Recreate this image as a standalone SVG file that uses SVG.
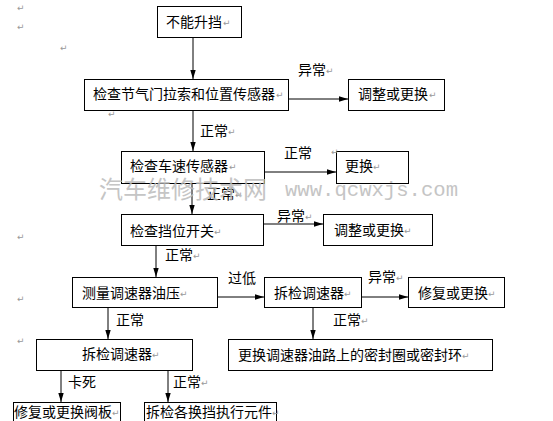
<svg xmlns="http://www.w3.org/2000/svg" width="553" height="421" viewBox="0 0 553 421">
<style>
.box{fill:#fff;stroke:#000;stroke-width:1}
.t{font-family:"Noto Sans CJK SC","Liberation Sans",sans-serif;font-size:14px;fill:#000}
.m{font-family:"DejaVu Sans",sans-serif;font-size:9px;fill:#999}
.ln{stroke:#000;stroke-width:1;fill:none;marker-end:url(#ah)}
.wm{font-family:"Noto Sans CJK SC",serif;font-size:24px;fill:#bbb;opacity:0.85}
.wm2{font-family:"Liberation Mono",monospace;font-size:20.6px;fill:#bbb;opacity:0.85}
</style>
<defs>
<marker id="ah" viewBox="0 0 10 6" refX="10" refY="3" markerWidth="9" markerHeight="5.4" markerUnits="userSpaceOnUse" orient="auto">
<path d="M0,0 L10,3 L0,6 Z" fill="#000"/>
</marker>
</defs>
<rect width="553" height="421" fill="#fff"/>
<g id="connectors">
<line class="ln" x1="193" y1="37" x2="193" y2="79"/>
<line class="ln" x1="288" y1="99" x2="348" y2="99"/>
<line class="ln" x1="193" y1="110" x2="193" y2="151"/>
<line class="ln" x1="264" y1="172" x2="336" y2="172"/>
<line class="ln" x1="192" y1="183" x2="192" y2="214"/>
<line class="ln" x1="264" y1="224" x2="323" y2="224"/>
<line class="ln" x1="156" y1="245" x2="156" y2="277"/>
<line class="ln" x1="217" y1="297" x2="264" y2="297"/>
<line class="ln" x1="361" y1="297" x2="408" y2="297"/>
<line class="ln" x1="313" y1="307" x2="313" y2="339"/>
<line class="ln" x1="108" y1="307" x2="108" y2="339"/>
<line class="ln" x1="61" y1="370" x2="61" y2="402"/>
<line class="ln" x1="168" y1="370" x2="168" y2="402"/>
<text class="t" x="298" y="75">异常</text><text class="m" x="326" y="74">↵</text>
<text class="t" x="200" y="136">正常</text><text class="m" x="228" y="135">↵</text>
<text class="t" x="284" y="158">正常</text>
<text class="t" x="207" y="199">正常</text><text class="m" x="235" y="198">↵</text>
<text class="t" x="277" y="221">异常</text><text class="m" x="305" y="220">↵</text>
<text class="t" x="165" y="260">正常</text><text class="m" x="193" y="259">↵</text>
<text class="t" x="228" y="283">过低</text>
<text class="t" x="368" y="282">异常</text><text class="m" x="396" y="281">↵</text>
<text class="t" x="333" y="325">正常</text><text class="m" x="361" y="324">↵</text>
<text class="t" x="116" y="325">正常</text>
<text class="t" x="68" y="387">卡死</text>
<text class="t" x="173" y="387">正常</text><text class="m" x="201" y="386">↵</text>
</g>
<g id="n1"><rect class="box" x="157.5" y="6.5" width="84" height="31"/><text class="t" x="166" y="27">不能升挡</text><text class="m" x="223" y="26">↵</text></g>
<g id="n2"><rect class="box" x="84.5" y="79.5" width="204" height="31"/><text class="t" x="93" y="99">检查节气门拉索和位置传感器</text><text class="m" x="276" y="98">↵</text></g>
<g id="n3"><rect class="box" x="348.5" y="79.5" width="96" height="31"/><text class="t" x="358" y="99">调整或更换</text><text class="m" x="429" y="98">↵</text></g>
<g id="n4"><rect class="box" x="121.5" y="151.5" width="143" height="32"/><text class="t" x="130" y="171">检查车速传感器</text><text class="m" x="229" y="170">↵</text></g>
<g id="n5"><rect class="box" x="336.5" y="151.5" width="72" height="32"/><text class="t" x="345" y="171">更换</text><text class="m" x="373" y="170">↵</text></g>
<g id="n6"><rect class="box" x="121.5" y="214.5" width="142" height="31"/><text class="t" x="130" y="236">检查挡位开关</text><text class="m" x="214" y="235">↵</text></g>
<g id="n7"><rect class="box" x="323.5" y="214.5" width="109" height="31"/><text class="t" x="334" y="235">调整或更换</text><text class="m" x="404" y="234">↵</text></g>
<g id="n8"><rect class="box" x="72.5" y="277.5" width="145" height="30"/><text class="t" x="82" y="298">测量调速器油压</text><text class="m" x="180" y="297">↵</text></g>
<g id="n9"><rect class="box" x="264.5" y="277.5" width="97" height="30"/><text class="t" x="274" y="298">拆检调速器</text><text class="m" x="344" y="297">↵</text></g>
<g id="n10"><rect class="box" x="408.5" y="277.5" width="96" height="30"/><text class="t" x="418" y="298">修复或更换</text><text class="m" x="488" y="297">↵</text></g>
<g id="n11"><rect class="box" x="228.5" y="339.5" width="264" height="31"/><text class="t" x="238" y="360">更换调速器油路上的密封圈或密封环</text><text class="m" x="462" y="359">↵</text></g>
<g id="n12"><rect class="box" x="36.5" y="339.5" width="156" height="31"/><text class="t" x="82" y="359">拆检调速器</text><text class="m" x="152" y="358">↵</text></g>
<g id="n13"><rect class="box" x="13.5" y="402.5" width="107" height="25"/><text class="t" x="14" y="417">修复或更换阀板</text><text class="m" x="112" y="416">↵</text></g>
<g id="n14"><rect class="box" x="144.5" y="402.5" width="132" height="25"/><text class="t" x="146" y="417">拆检各换挡执行元件</text><text class="m" x="272" y="416">↵</text></g>
<g id="marks">
<text class="m" x="17" y="11">↵</text>
<text class="m" x="17" y="30">↵</text>
<text class="m" x="60" y="51">↵</text>
<text class="m" x="108" y="117">↵</text>
<text class="m" x="331" y="155">↵</text>
<text class="m" x="17" y="240">↵</text>
<text class="m" x="17" y="302">↵</text>
<text class="m" x="17" y="344">↵</text>
</g>
<g id="watermark">
<text class="wm" x="99" y="198">汽车维修技术网</text>
<text class="wm2" x="285" y="196">www.qcwxjs.com</text>
</g>
</svg>
